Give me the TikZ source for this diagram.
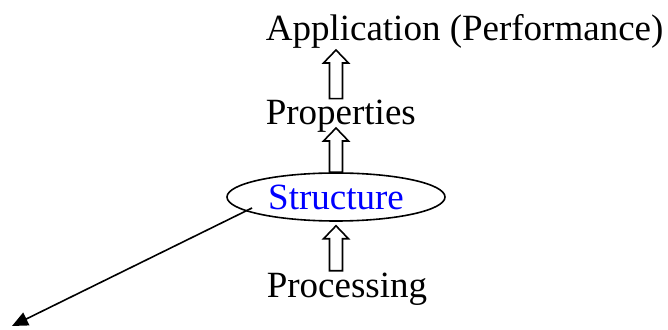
\documentclass[tikz,border=0pt]{standalone}
\usepackage{fontspec}
\setmainfont{Liberation Serif}
\usetikzlibrary{shapes.geometric,arrows.meta,calc}

% hollow block arrow pointing up, from #1 (base) to #2 (tip)
\newcommand{\hollowup}[2]{%
  \draw ($(#1)+(-6.5,0)$) -- ($(#2)+(-6.5,-13)$) -- ($(#2)+(-12.5,-13)$) -- (#2)
    -- ($(#2)+(12.5,-13)$) -- ($(#2)+(6.5,-13)$) -- ($(#1)+(6.5,0)$) -- cycle;}

\begin{document}
\begin{tikzpicture}[x=1pt, y=1pt, line width=1.6pt,
    every node/.style={inner sep=0pt, font=\fontsize{37}{44}\selectfont}]
\useasboundingbox (0,0) rectangle (668,329);

% levels
\node[anchor=base west] (app) at (265,288) {Application (Performance)};
\node[anchor=base west] (prop) at (265,204) {Properties};
\node[draw, ellipse, minimum width=218pt, minimum height=48pt, text=blue] (struct) at (336,132) {Structure};
\node[anchor=base west] (proc) at (266,32) {Processing};

% arrow ends
\coordinate (propbase) at ($(struct.north |- prop.north)+(0,1)$);
\coordinate (apptip) at ($(struct.north |- app.base)+(0,-9)$);
\coordinate (proptip) at ($(struct.north |- prop.base)+(0,-3)$);
\coordinate (procbase) at ($(struct.south |- proc.north)+(0,1)$);
\coordinate (structtip) at ($(struct.south)+(0,-4)$);
\coordinate (corner) at (12,3);

\hollowup{propbase}{apptip}
\hollowup{struct.north}{proptip}
\hollowup{procbase}{structtip}

\draw[-{Triangle[length=16pt, width=14pt]}] ($(struct.center)+(-84,-11)$) -- (corner);
\end{tikzpicture}
\end{document}
